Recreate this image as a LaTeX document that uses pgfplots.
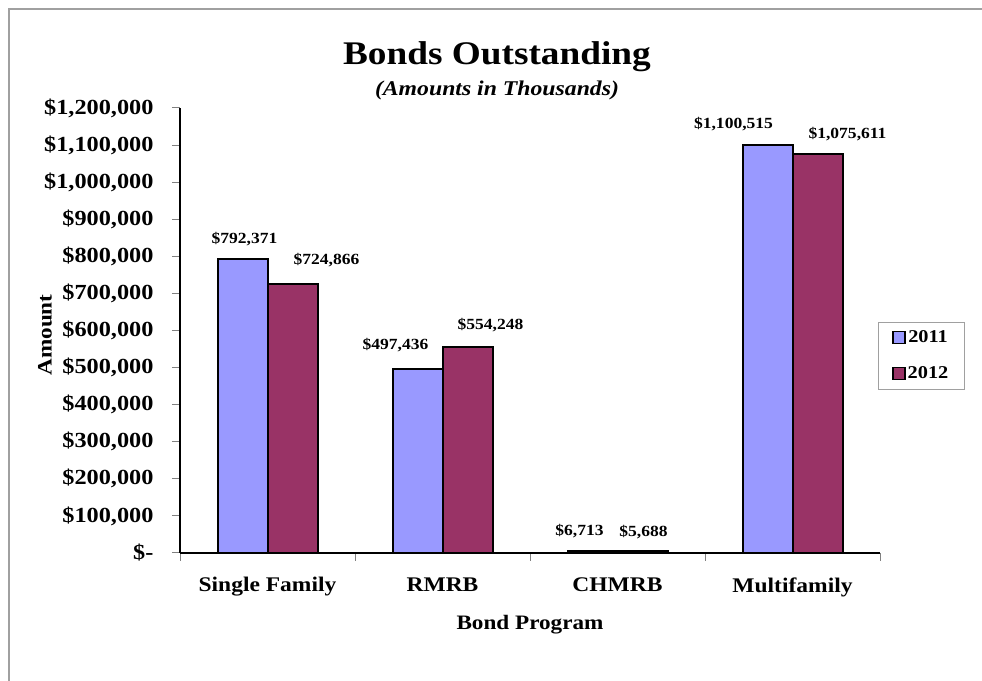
\documentclass[border=0pt]{standalone}
\usepackage{fontspec}
\setmainfont{Liberation Serif}[FakeStretch=1.13]
\usepackage{pgfplots}
\pgfplotsset{compat=1.18}
\usepackage{pgfplotstable}
\definecolor{c11}{HTML}{9999FF}
\definecolor{c12}{HTML}{993366}
\definecolor{framegray}{HTML}{A0A0A0}

\pgfplotstableread{
x y dx dy lab
0 792371 2 20 792,371
1 497436 -22 23 497,436
2 6713 -13 19 6,713
3 1100515 -34 21 1,100,515
}\tabA
\pgfplotstableread{
x y dx dy lab
0 724866 34 24 724,866
1 554248 23 22.5 554,248
2 5688 1 19 5,688
3 1075611 30 20 1,075,611
}\tabB

\begin{document}
\begin{tikzpicture}
\useasboundingbox (0pt,0pt) rectangle (982pt,680pt);
\draw[framegray, line width=2pt] (9pt,-5pt) -- (9pt,671pt) -- (990pt,671pt);
\node[font=\fontsize{33}{36}\selectfont\bfseries] at (497pt,623pt) {Bonds Outstanding};
\node[font=\fontsize{21}{24}\selectfont\bfseries\itshape] at (497pt,590pt) {(Amounts in Thousands)};
\begin{axis}[
  at={(180pt,127pt)}, anchor=south west,
  scale only axis, width=700pt, height=445pt,
  xmin=-0.5, xmax=3.5, ymin=0, ymax=1200000,
  enlargelimits=false, clip=false, scaled y ticks=false,
  axis x line*=bottom, axis y line*=left,
  axis line style={black, line width=1.2pt},
  ybar=0pt, bar width=50pt,
  xtick={-0.5,0.5,1.5,2.5,3.5}, xticklabels={},
  extra x ticks={0,1,2,3},
  extra x tick labels={{\textbf{Single Family}},{\textbf{RMRB}},{\textbf{CHMRB}},{\textbf{Multifamily}}},
  extra x tick style={major tick length=0pt, xticklabel style={yshift=-21pt, font=\fontsize{20.8}{24}\selectfont\bfseries}},
  ytick={0,100000,...,1200000},
  yticklabels={{\textbf{\$-}},{\textbf{\$100,000}},{\textbf{\$200,000}},{\textbf{\$300,000}},{\textbf{\$400,000}},{\textbf{\$500,000}},{\textbf{\$600,000}},{\textbf{\$700,000}},{\textbf{\$800,000}},{\textbf{\$900,000}},{\textbf{\$1,000,000}},{\textbf{\$1,100,000}},{\textbf{\$1,200,000}}},
  yticklabel style={xshift=-15pt, font=\fontsize{21.5}{24}\selectfont\bfseries},
  tick style={draw=gray, line width=1pt},
  major tick length=8pt, tick align=outside,
  xlabel={\textbf{Bond Program}},
  xlabel style={at={(axis description cs:0.5,-0.162)}, anchor=center, font=\fontsize{20.5}{24}\selectfont\bfseries},
  ylabel={\textbf{Amount}},
  ylabel style={at={(axis description cs:-0.193,0.49)}, anchor=center, font=\fontsize{20.5}{24}\selectfont\bfseries},
  point meta=explicit symbolic,
  nodes near coords={\textbf{\$\pgfplotspointmeta}},
  visualization depends on={\thisrow{dx} \as \dx},
  visualization depends on={\thisrow{dy} \as \dy},
  nodes near coords style={anchor=center, xshift=\dx pt, yshift=\dy pt, font=\fontsize{15.5}{18}\selectfont\bfseries, inner sep=0pt},
  legend style={at={(0.997,0.52)}, anchor=north west, draw=framegray, line width=0.8pt,
    font=\fontsize{18}{21}\selectfont\bfseries, inner xsep=14pt, inner ysep=7pt, row sep=18pt},
  legend image code/.code={\draw[#1, line width=1.4pt] (10pt,-6pt) rectangle (22pt,6pt);},
]
\addplot[fill=c11, draw=black, line width=2pt] table[x=x, y=y, meta=lab] {\tabA};
\addplot[fill=c12, draw=black, line width=2pt] table[x=x, y=y, meta=lab] {\tabB};
\legend{2011,2012}
\end{axis}
\end{tikzpicture}
\end{document}
